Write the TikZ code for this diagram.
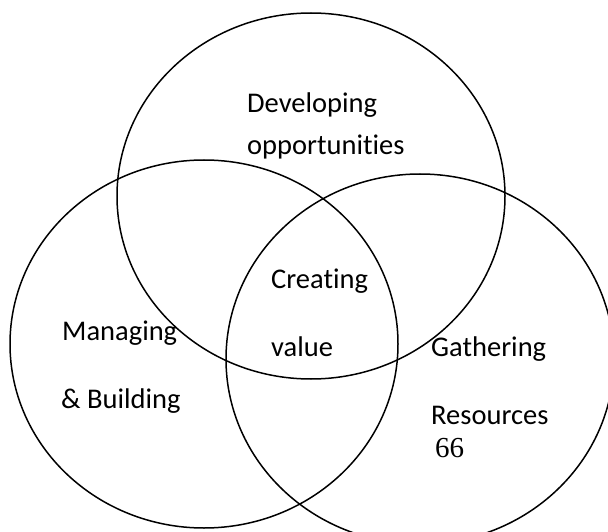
\documentclass[tikz,border=0pt]{standalone}
\usepackage{fontspec}
\setmainfont{Carlito}[Ligatures={NoCommon}]
\newfontfamily\numfont{Liberation Serif}
\begin{document}
\begin{tikzpicture}[x=1pt, y=-1pt,
    ring/.style={line width=1.5pt},
    tag/.style={anchor=base west, inner sep=0pt, font=\fontsize{28.5}{34}\selectfont}]
        \useasboundingbox (0,0) rectangle (608,532);
        \begin{scope}
            \clip (0,0) rectangle (608,532);
            \draw[ring] (311,196) ellipse [x radius=194, y radius=183];
            \draw[ring] (204,344) ellipse [x radius=194, y radius=184];
            \draw[ring] (420,359) ellipse [x radius=194, y radius=185];
        \end{scope}
        
        \node[tag] (dev) at (247,113) {Developing};
        \node[tag] (opp) at (247,155) {opportunities};
        \node[tag] (cre) at (271,288) {Creating};
        \node[tag] (val) at (271,356) {value};
        \node[tag] (man) at (62,340) {Managing};
        \node[tag] (bui) at (61,408) {\& Building};
        \node[tag] (gat) at (431,356) {Gathering};
        \node[tag] (res) at (431,424) {Resources};
        \node[tag, font=\numfont\fontsize{29}{34}\selectfont] (num) at (435,457) {66};
    \end{tikzpicture}
\end{document}
